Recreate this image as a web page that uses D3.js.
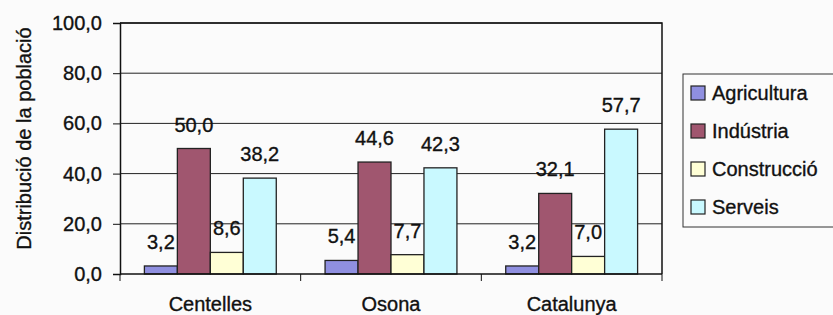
<!DOCTYPE html>
<html>
<head>
<meta charset="utf-8">
<script src="https://cdn.jsdelivr.net/npm/d3@7"></script>
<style>
  body { margin: 0; background: #fbfbfb; }
  svg text { font-family: "Liberation Sans", Arial, sans-serif; fill: #111; stroke: #111; stroke-width: 0.35px; }
</style>
</head>
<body>
<div id="vis"></div>
<script>
// Data
var categories = ["Centelles", "Osona", "Catalunya"];
var seriesNames = ["Agricultura", "Indústria", "Construcció", "Serveis"];
var agricultura = [3.2, 5.4, 3.2];
var industria   = [50.0, 44.6, 32.1];
var construccio = [8.6, 7.7, 7.0];
var serveis     = [38.2, 42.3, 57.7];
var yTicks = [0, 20, 40, 60, 80, 100];
var colors = ["#8f8fe0", "#a0566f", "#ffffd6", "#c9f9ff"];

var seriesValues = [agricultura, industria, construccio, serveis];

// Layout
var width = 833, height = 315;
var plot = {left: 120, right: 662, top: 23, bottom: 274};

var svg = d3.select("#vis").append("svg")
	.attr("width", width)
	.attr("height", height);

var fmt = function(v) { return d3.format(".1f")(v).replace(".", ","); };

var x = d3.scaleBand()
	.domain(categories)
	.range([plot.left, plot.right])
	.padding(0);

var xs = d3.scaleBand()
	.domain(seriesNames)
	.range([0, x.bandwidth()])
	.paddingInner(0)
	.paddingOuter(0.74);

var y = d3.scaleLinear()
	.domain([0, 100])
	.range([plot.bottom, plot.top]);

// gridlines
svg.append("g")
	.selectAll("line")
	.data(yTicks.slice(1))
	.enter()
	.append("line")
	.attr("x1", plot.left)
	.attr("x2", plot.right)
	.attr("y1", function(d) { return y(d); })
	.attr("y2", function(d) { return y(d); })
	.attr("stroke", "#222")
	.attr("stroke-width", 1);

// plot border (top & right)
svg.append("path")
	.attr("d", "M" + plot.left + "," + plot.top + "H" + plot.right + "V" + plot.bottom)
	.attr("fill", "none")
	.attr("stroke", "#111")
	.attr("stroke-width", 1.5);

// bars
var groups = svg.append("g")
	.selectAll("g")
	.data(seriesNames)
	.enter()
	.append("g");

groups.each(function(s, si) {
	var g = d3.select(this);
	var vals = seriesValues[si];
	g.selectAll("rect")
		.data(vals)
		.enter()
		.append("rect")
		.attr("x", function(d, i) { return x(categories[i]) + xs(s); })
		.attr("y", function(d) { return y(d); })
		.attr("width", xs.bandwidth())
		.attr("height", function(d) { return y(0) - y(d); })
		.attr("fill", colors[si])
		.attr("stroke", "#222")
		.attr("stroke-width", 1.3);
});

// value labels
groups.each(function(s, si) {
	var g = d3.select(this);
	var vals = seriesValues[si];
	g.selectAll("text")
		.data(vals)
		.enter()
		.append("text")
		.attr("x", function(d, i) { return x(categories[i]) + xs(s) + xs.bandwidth() / 2; })
		.attr("y", function(d) { return y(d) - 17; })
		.attr("text-anchor", "middle")
		.style("font-size", "20px")
		.text(fmt);
});

// y axis
var yAxis = d3.axisLeft(y)
	.tickValues(yTicks)
	.tickSize(7)
	.tickPadding(11)
	.tickFormat(fmt);

svg.append("g")
	.attr("transform", "translate(" + plot.left + ",0)")
	.call(yAxis)
	.call(function(g) {
		g.select(".domain").attr("stroke", "#111").attr("stroke-width", 1.5);
		g.selectAll(".tick line").attr("stroke", "#111");
		g.selectAll("text").style("font-size", "20px").attr("fill", "#111");
	});

// x axis
svg.append("line")
	.attr("x1", plot.left).attr("x2", plot.right)
	.attr("y1", y(0)).attr("y2", y(0))
	.attr("stroke", "#111").attr("stroke-width", 1.5);

var boundaries = categories.map(function(c) { return x(c); }).concat([plot.right]);
svg.append("g")
	.selectAll("line")
	.data(boundaries)
	.enter()
	.append("line")
	.attr("x1", function(d) { return d; })
	.attr("x2", function(d) { return d; })
	.attr("y1", y(0))
	.attr("y2", y(0) + 7)
	.attr("stroke", "#111");

svg.append("g")
	.selectAll("text")
	.data(categories)
	.enter()
	.append("text")
	.attr("x", function(d) { return x(d) + x.bandwidth() / 2; })
	.attr("y", 311)
	.attr("text-anchor", "middle")
	.style("font-size", "20px")
	.text(function(d) { return d; });

// y title
svg.append("text")
	.attr("transform", "translate(31," + ((plot.top + plot.bottom) / 2 - 10) + ") rotate(-90)")
	.attr("text-anchor", "middle")
	.style("font-size", "20px")
	.text("Distribució de la població");

// legend
var legend = svg.append("g")
	.attr("transform", "translate(683,74)");

legend.append("rect")
	.attr("width", 170)
	.attr("height", 153)
	.attr("fill", "none")
	.attr("stroke", "#333")
	.attr("stroke-width", 1);

var item = legend.selectAll(".item")
	.data(seriesNames)
	.enter()
	.append("g")
	.attr("class", "item")
	.attr("transform", function(d, i) { return "translate(0," + (19 + i * 38) + ")"; });

item.append("rect")
	.attr("x", 8)
	.attr("y", -7)
	.attr("width", 14)
	.attr("height", 14)
	.attr("fill", function(d, i) { return colors[i]; })
	.attr("stroke", "#222")
	.attr("stroke-width", 1.2);

item.append("text")
	.attr("x", 29)
	.attr("y", 7)
	.style("font-size", "20px")
	.text(function(d) { return d; });
</script>
</body>
</html>
